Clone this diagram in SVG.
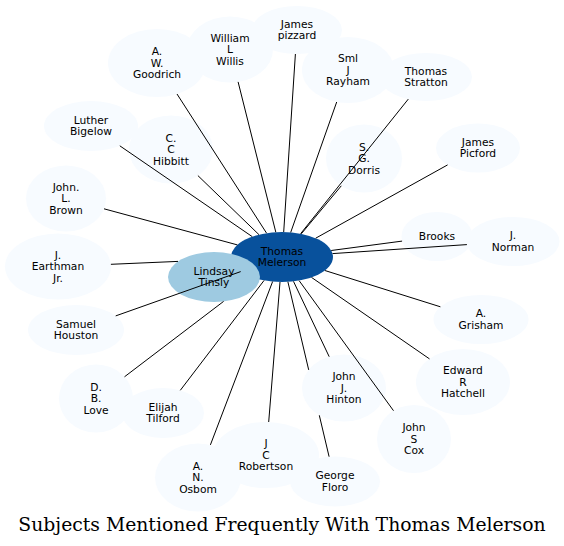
<svg xmlns="http://www.w3.org/2000/svg" width="564" height="546" viewBox="0 0 564 546">
<style>
.n ellipse{fill:#f7fbff;stroke:none}
#thomas ellipse{fill:#08519c}
#lindsay ellipse{fill:#9ecae1}
.n text{font-family:"DejaVu Sans",sans-serif;font-size:10.7px;fill:#000;text-anchor:middle}
#edges path{stroke:#000;stroke-width:1;fill:none}
.title{font-family:"DejaVu Serif",serif;font-size:18.8px;fill:#000;text-anchor:middle}
</style>
<rect width="564" height="546" fill="#fff"/>
<g id="nodes">
<g id="goodrich" class="n"><ellipse cx="157" cy="63" rx="49" ry="34"/><text><tspan x="157" y="55">A.</tspan><tspan x="157" y="66.5">W.</tspan><tspan x="157" y="78">Goodrich</tspan></text></g>
<g id="willis" class="n"><ellipse cx="230" cy="49.5" rx="43" ry="33"/><text><tspan x="230" y="41.5">William</tspan><tspan x="230" y="53">L</tspan><tspan x="230" y="64.5">Willis</tspan></text></g>
<g id="pizzard" class="n"><ellipse cx="297" cy="30" rx="45" ry="24"/><text><tspan x="297" y="27.75">James</tspan><tspan x="297" y="39.25">pizzard</tspan></text></g>
<g id="rayham" class="n"><ellipse cx="348" cy="70" rx="46" ry="33"/><text><tspan x="348" y="62">Sml</tspan><tspan x="348" y="73.5">J</tspan><tspan x="348" y="85">Rayham</tspan></text></g>
<g id="stratton" class="n"><ellipse cx="426" cy="77" rx="46" ry="24"/><text><tspan x="426" y="74.75">Thomas</tspan><tspan x="426" y="86.25">Stratton</tspan></text></g>
<g id="dorris" class="n"><ellipse cx="364" cy="158.5" rx="38" ry="34"/><text><tspan x="364" y="150.5">S.</tspan><tspan x="364" y="162">G.</tspan><tspan x="364" y="173.5">Dorris</tspan></text></g>
<g id="picford" class="n"><ellipse cx="478" cy="148" rx="42" ry="24.5"/><text><tspan x="478" y="145.75">James</tspan><tspan x="478" y="157.25">Picford</tspan></text></g>
<g id="bigelow" class="n"><ellipse cx="91" cy="126" rx="47" ry="25"/><text><tspan x="91" y="123.75">Luther</tspan><tspan x="91" y="135.25">Bigelow</tspan></text></g>
<g id="hibbitt" class="n"><ellipse cx="171" cy="149.5" rx="42" ry="34"/><text><tspan x="171" y="141.5">C.</tspan><tspan x="171" y="153">C</tspan><tspan x="171" y="164.5">Hibbitt</tspan></text></g>
<g id="brown" class="n"><ellipse cx="66" cy="198.5" rx="40" ry="33"/><text><tspan x="66" y="190.5">John.</tspan><tspan x="66" y="202">L.</tspan><tspan x="66" y="213.5">Brown</tspan></text></g>
<g id="earthman" class="n"><ellipse cx="58" cy="266.5" rx="53" ry="33"/><text><tspan x="58" y="258.5">J.</tspan><tspan x="58" y="270">Earthman</tspan><tspan x="58" y="281.5">Jr.</tspan></text></g>
<g id="houston" class="n"><ellipse cx="76" cy="330" rx="48" ry="25"/><text><tspan x="76" y="327.75">Samuel</tspan><tspan x="76" y="339.25">Houston</tspan></text></g>
<g id="love" class="n"><ellipse cx="96" cy="398.5" rx="37" ry="34"/><text><tspan x="96" y="390.5">D.</tspan><tspan x="96" y="402">B.</tspan><tspan x="96" y="413.5">Love</tspan></text></g>
<g id="tilford" class="n"><ellipse cx="163" cy="413" rx="41" ry="25"/><text><tspan x="163" y="410.75">Elijah</tspan><tspan x="163" y="422.25">Tilford</tspan></text></g>
<g id="osborn" class="n"><ellipse cx="198" cy="477.5" rx="43" ry="34"/><text><tspan x="198" y="469.5">A.</tspan><tspan x="198" y="481">N.</tspan><tspan x="198" y="492.5">Osbom</tspan></text></g>
<g id="robertson" class="n"><ellipse cx="266" cy="455" rx="53" ry="33"/><text><tspan x="266" y="447">J</tspan><tspan x="266" y="458.5">C</tspan><tspan x="266" y="470">Robertson</tspan></text></g>
<g id="floro" class="n"><ellipse cx="335" cy="481.5" rx="45" ry="25"/><text><tspan x="335" y="479.25">George</tspan><tspan x="335" y="490.75">Floro</tspan></text></g>
<g id="hinton" class="n"><ellipse cx="344" cy="388" rx="42" ry="33.5"/><text><tspan x="344" y="380">John</tspan><tspan x="344" y="391.5">J.</tspan><tspan x="344" y="403">Hinton</tspan></text></g>
<g id="cox" class="n"><ellipse cx="414" cy="439" rx="37" ry="34"/><text><tspan x="414" y="431">John</tspan><tspan x="414" y="442.5">S</tspan><tspan x="414" y="454">Cox</tspan></text></g>
<g id="hatchell" class="n"><ellipse cx="463" cy="382" rx="47" ry="33"/><text><tspan x="463" y="374">Edward</tspan><tspan x="463" y="385.5">R</tspan><tspan x="463" y="397">Hatchell</tspan></text></g>
<g id="grisham" class="n"><ellipse cx="481" cy="319.5" rx="47.5" ry="24.5"/><text><tspan x="481" y="317.25">A.</tspan><tspan x="481" y="328.75">Grisham</tspan></text></g>
<g id="brooks" class="n"><ellipse cx="437" cy="236.5" rx="35.5" ry="24.5"/><text x="437" y="240">Brooks</text></g>
<g id="norman" class="n"><ellipse cx="513" cy="241.5" rx="46.5" ry="24.5"/><text><tspan x="513" y="239.25">J.</tspan><tspan x="513" y="250.75">Norman</tspan></text></g>
<g id="thomas" class="n"><ellipse cx="282" cy="257" rx="51" ry="25"/><text><tspan x="282" y="254.75">Thomas</tspan><tspan x="282" y="266.25">Melerson</tspan></text></g>
<g id="lindsay" class="n"><ellipse cx="214" cy="277" rx="46" ry="25"/><text><tspan x="214" y="274.75">Lindsay</tspan><tspan x="214" y="286.25">Tinsly</tspan></text></g>
</g>
<g id="edges">
<path d="M266.6,233.2L177,94"/>
<path d="M275.8,232.2L238.1,81.9"/>
<path d="M283.7,232L295.4,54"/>
<path d="M290.7,232.4L336.7,102"/>
<path d="M300.6,233.7L408.3,99.1"/>
<path d="M301.3,233.8L341.3,185.8"/>
<path d="M315.7,238.2L447.6,164.9"/>
<path d="M252.3,236.7L119.8,145.8"/>
<path d="M259,234.7L197.9,175.6"/>
<path d="M237.4,244.9L104,208.8"/>
<path d="M178,261.4L110.9,264.3"/>
<path d="M240.7,271.6L115.7,315.9"/>
<path d="M223.6,301.4L124.5,376.8"/>
<path d="M264.1,280.4L180.3,390.3"/>
<path d="M272.6,281.6L210.4,444.9"/>
<path d="M280,282L268.7,422"/>
<path d="M287.9,281.8L308.7,369.9M319.3,415.3L329.1,456.7"/>
<path d="M293.5,281.4L329.2,356.7"/>
<path d="M299.1,280.6L393.5,410.7"/>
<path d="M311.5,277.4L429.5,358.9"/>
<path d="M324.9,270.5L440.4,306.8"/>
<path d="M331.2,250.5L402.1,241.1"/>
<path d="M332.5,253.6L466.9,244.6"/>
</g>
<text class="title" x="282" y="531">Subjects Mentioned Frequently With Thomas Melerson</text>
</svg>
